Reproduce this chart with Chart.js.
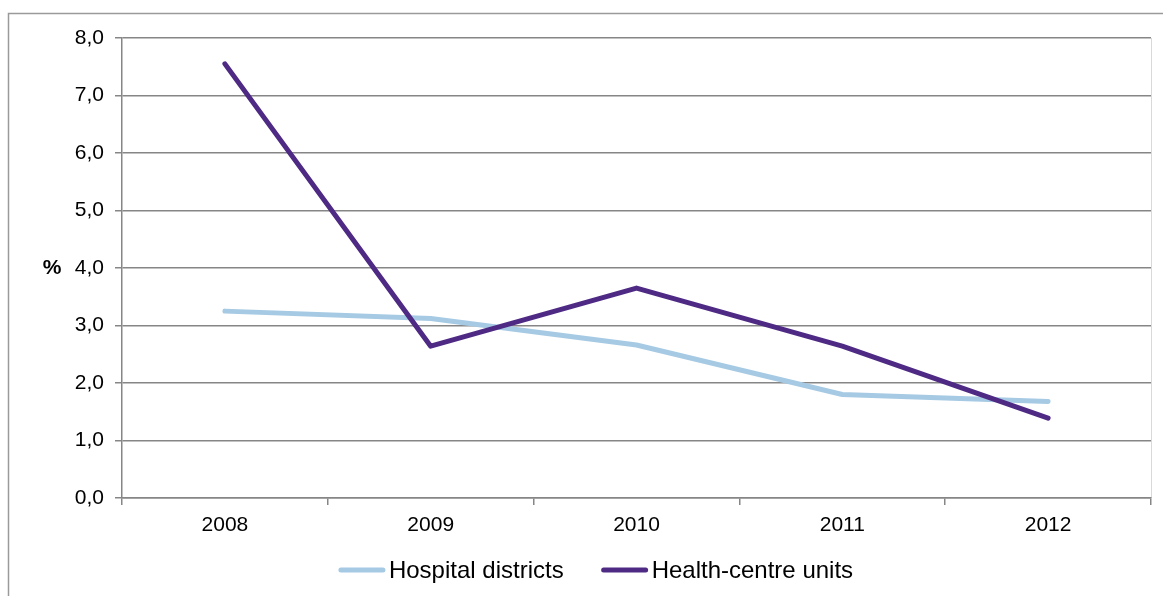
<!DOCTYPE html>
<html>
<head>
<meta charset="utf-8">
<script src="https://cdn.jsdelivr.net/npm/chart.js@4"></script>
<style>
  html, body { margin: 0; padding: 0; background: #fff; }
  #wrap { width: 1163px; height: 596px; position: relative; }
</style>
</head>
<body>
<div id="wrap"><canvas id="myChart"></canvas></div>
<script>
const years = ['2008', '2009', '2010', '2011', '2012'];
const hospitalDistricts = [3.25, 3.12, 2.66, 1.80, 1.68];
const healthCentreUnits = [7.55, 2.64, 3.65, 2.64, 1.39];
const yTicks = [0, 1, 2, 3, 4, 5, 6, 7, 8];

const axisGray = '#868686';
const fontFamily = '"Liberation Sans", Arial, sans-serif';

// outer frame, "%" label, faint right edge of plot and the legend
const decorations = {
    id: 'decorations',
    beforeDraw(chart) {
        const c = chart.ctx;
        c.save();
        c.strokeStyle = '#9a9a9a';
        c.lineWidth = 1.5;
        c.strokeRect(8.5, 13.5, 1300, 800);
        const a = chart.chartArea;
        c.strokeStyle = '#d9d9d9';
        c.lineWidth = 1;
        c.beginPath();
        c.moveTo(a.right + 0.5, a.top);
        c.lineTo(a.right + 0.5, a.bottom);
        c.stroke();
        c.restore();
    },
    afterDraw(chart) {
        const c = chart.ctx;
        c.save();
        c.fillStyle = '#000';
        c.font = 'bold 21px ' + fontFamily;
        c.textAlign = 'center';
        c.textBaseline = 'middle';
        c.fillText('%', 52, chart.scales.y.getPixelForValue(4));

        // legend
        c.font = '24px ' + fontFamily;
        c.textAlign = 'left';
        const lineLen = 46, gap = 4, itemGap = 38, legendY = 570;
        const items = chart.data.datasets.map(ds => ({
            text: ds.label, color: ds.borderColor, w: c.measureText(ds.label).width
        }));
        const total = items.reduce((s, it) => s + lineLen + gap + it.w, 0) + itemGap * (items.length - 1);
        let x = 596 - total / 2;
        items.forEach(it => {
            c.strokeStyle = it.color;
            c.lineWidth = 5;
            c.lineCap = 'round';
            c.beginPath();
            c.moveTo(x + 2, legendY);
            c.lineTo(x + lineLen - 2, legendY);
            c.stroke();
            c.fillStyle = '#000';
            c.fillText(it.text, x + lineLen + gap, legendY + 1);
            x += lineLen + gap + it.w + itemGap;
        });
        c.restore();
    }
};

const ctx = document.getElementById('myChart').getContext('2d');
const lineChart = new Chart(ctx, {
    type: 'line',
    data: {
        labels: years,
        datasets: [{
            label: 'Hospital districts',
            data: hospitalDistricts,
            borderColor: '#a6cae3',
            backgroundColor: '#a6cae3',
            borderWidth: 5,
            pointRadius: 0,
            tension: 0,
            borderCapStyle: 'round',
            borderJoinStyle: 'round',
            order: 2
        }, {
            label: 'Health-centre units',
            data: healthCentreUnits,
            borderColor: '#4e2a84',
            backgroundColor: '#4e2a84',
            borderWidth: 5,
            pointRadius: 0,
            tension: 0,
            borderCapStyle: 'round',
            borderJoinStyle: 'round',
            order: 1
        }]
    },
    options: {
        responsive: true,
        maintainAspectRatio: false,
        animation: false,
        layout: { padding: { top: 38, right: 12, bottom: 47, left: 0 } },
        plugins: {
            tooltip: { enabled: false },
            legend: { display: false }
        },
        scales: {
            x: {
                offset: true,
                grid: {
                    offset: true,
                    drawOnChartArea: false,
                    drawTicks: true,
                    tickLength: 7,
                    color: axisGray,
                    lineWidth: 1.5
                },
                border: { color: axisGray, width: 1.5 },
                ticks: {
                    color: '#000',
                    padding: 8,
                    font: { family: fontFamily, size: 21 }
                },
                afterFit(scale) { scale.height = 51; }
            },
            y: {
                min: yTicks[0],
                max: yTicks[yTicks.length - 1],
                afterBuildTicks(scale) { scale.ticks = yTicks.map(v => ({ value: v })); },
                grid: {
                    color: axisGray,
                    lineWidth: 1.5,
                    tickLength: 7
                },
                border: { color: axisGray, width: 1.5 },
                ticks: {
                    color: '#000',
                    padding: 11,
                    font: { family: fontFamily, size: 21 },
                    callback: (v) => Number(v).toFixed(1).replace('.', ',')
                },
                afterFit(scale) { scale.width = 122; }
            }
        }
    },
    plugins: [decorations]
});
</script>
</body>
</html>
